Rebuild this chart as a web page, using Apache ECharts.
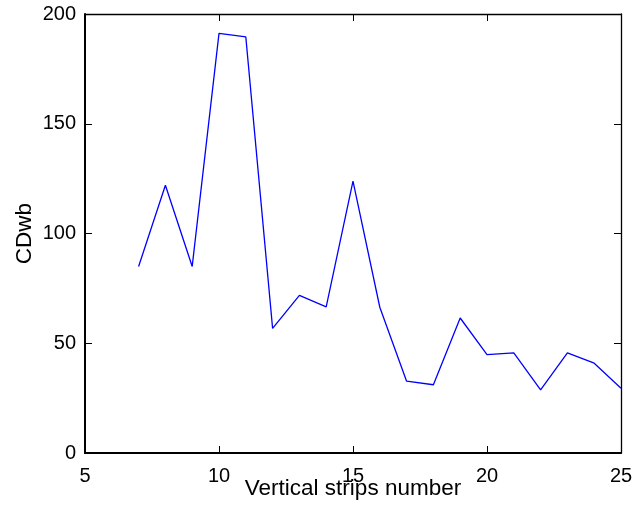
<!DOCTYPE html>
<html><head><meta charset="utf-8">
<script src="https://cdn.jsdelivr.net/npm/echarts@6/dist/echarts.min.js"></script>
<style>html,body{margin:0;padding:0;background:#fff}#c{width:641px;height:505px}</style>
</head><body><div id="c"></div>
<script>
const strips = [7, 8, 9, 10, 11, 12, 13, 14, 15, 16, 17, 18, 19, 20, 21, 22, 23, 24, 25];
const cdwb = [85, 122, 85, 191.2, 189.6, 56.8, 71.8, 66.6, 123.9, 66.4, 32.7, 31.1, 61.5, 44.8, 45.6, 28.8, 45.6, 40.9, 29.5];
const xTicks = [5, 10, 15, 20, 25];
const yTicks = [0, 50, 100, 150, 200];
const xName = 'Vertical strips number';
const yName = 'CDwb';

const font = 'Liberation Sans, Arial, Helvetica, sans-serif';
function axisCommon(w) {
  return {
    axisLine: {show: true, onZero: false, lineStyle: {color: '#000', width: w}},
    axisTick: {show: true, inside: true, length: 7, lineStyle: {color: '#000', width: 1}},
    splitLine: {show: false},
  };
}
const chart = echarts.init(document.getElementById('c'), null, {renderer: 'canvas'});
chart.setOption({
  animation: false,
  backgroundColor: '#fff',
  grid: {left: 85, right: 20, top: 14, bottom: 52, containLabel: false, outerBoundsMode: 'none'},
  xAxis: [
    Object.assign({type: 'value', min: xTicks[0], max: xTicks[xTicks.length-1], interval: xTicks[1]-xTicks[0],
      position: 'bottom', name: xName, nameLocation: 'middle', nameGap: 24, nameMoveOverlap: false,
      nameTextStyle: {fontFamily: font, fontSize: 22.5, color: '#000'},
      axisLabel: {fontFamily: font, fontSize: 20, color: '#000', margin: 13}}, axisCommon(2)),
    Object.assign({type: 'value', min: xTicks[0], max: xTicks[xTicks.length-1], interval: xTicks[1]-xTicks[0],
      position: 'top', axisLabel: {show: false}}, axisCommon(1.3))
  ],
  yAxis: [
    Object.assign({type: 'value', min: yTicks[0], max: yTicks[yTicks.length-1], interval: yTicks[1]-yTicks[0],
      position: 'left', name: yName, nameLocation: 'middle', nameGap: 49, nameRotate: 90, nameMoveOverlap: false,
      nameTextStyle: {fontFamily: font, fontSize: 22.5, color: '#000'},
      axisLabel: {fontFamily: font, fontSize: 20, color: '#000', margin: 9}}, axisCommon(2)),
    Object.assign({type: 'value', min: yTicks[0], max: yTicks[yTicks.length-1], interval: yTicks[1]-yTicks[0],
      position: 'right', axisLabel: {show: false}}, axisCommon(1.3))
  ],
  series: [{
    type: 'line',
    data: strips.map((s, i) => [s, cdwb[i]]),
    showSymbol: false,
    symbol: 'none',
    lineStyle: {color: '#0000ff', width: 1.3},
    xAxisIndex: 0, yAxisIndex: 0
  }]
});
</script></body></html>
